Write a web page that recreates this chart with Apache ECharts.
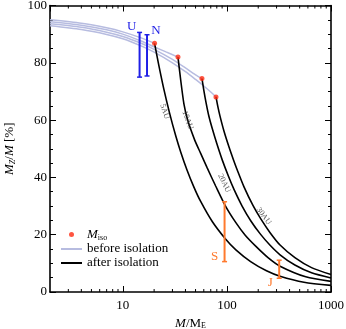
<!DOCTYPE html>
<html>
<head>
<meta charset="utf-8">
<script src="https://cdn.jsdelivr.net/npm/echarts@6/dist/echarts.min.js"></script>
<style>
  html, body { margin: 0; padding: 0; background: #fff; }
  #chart { width: 346px; height: 329px; }
</style>
</head>
<body>
<div id="chart"></div>
<script>
// tracks before isolation, [M/ME, Mz/M in %]
const before5 = [[2,95.0],[4,93.8],[7,92.2],[10,90.8],[15,88.7],[20.2,86.8]];
const before10 = [[2,94.3],[4,93.1],[7,91.5],[10,90.0],[15,87.6],[20,85.6],[26,83.8],[33.9,82.0]];
const before20 = [[2,93.6],[4,92.4],[7,90.7],[10,89.2],[15,86.8],[20,84.7],[30,81.2],[40,78.2],[50,75.8],[57.6,74.5]];
const before30 = [[2,92.9],[4,91.6],[7,89.9],[10,88.4],[15,85.9],[20,83.7],[30,80.0],[40,76.9],[50,74.2],[60,71.9],[70,69.8],[78.6,68.1]];

// tracks after isolation
const after5 = [[20.2,86.8],[22,79.8],[24.8,70.8],[28,62.8],[32.2,54.6],[36,48.9],[41.3,42.7],[48,36.8],[56,31.6],[72.6,24.5],[97,18.5],[122,14.7],[169,10.6],[240,7.4],[324,5.5],[550,3.4],[1000,2.3]];
const after10 = [[33.9,82.0],[36,74.0],[38.7,65.6],[42,60.0],[49,53.1],[56,48.4],[64.7,43.3],[78,37.0],[97,30.0],[122,24.2],[150,19.8],[189,16.0],[250,11.9],[324,9.0],[572,5.3],[1000,3.7]];
const after20 = [[57.6,74.5],[60,70.5],[63,66.2],[67,61.5],[72,57.3],[80,51.8],[90,46.2],[104,40.2],[117,35.8],[140,30.0],[170,24.8],[210,20.2],[260,16.3],[324,13.0],[450,9.4],[650,6.7],[1000,4.9]];
const after30 = [[78.6,68.1],[82,64.6],[86,61.3],[94,56.0],[105,50.5],[116,46.0],[126,42.5],[146,36.7],[178,30.2],[211,25.6],[260,20.7],[324,16.4],[450,12.0],[650,8.5],[1000,6.1]];

// isolation mass points
const isoPoints = [[20.2,86.8],[33.9,82.0],[57.6,74.5],[78.6,68.1]];

// planets: name, mass, low, high
const planetNames = ['U','N','S','J'];
const planetMass = [14.5,17.1,95,318];
const planetLow = [75.0,75.4,10.6,4.8];
const planetHigh = [90.6,89.8,31.5,11.1];

// curve labels
const trackNames = ['5AU','10AU','20AU','30AU'];
const trackLabelPos = [[25.2,63.0],[42.0,60.0],[94,38.0],[226,26.5]];

// minor ticks of the log axis
const minorX = [3,4,5,6,7,8,9,20,30,40,50,60,70,80,90,200,300,400,500,600,700,800,900];

const serif = 'Liberation Serif';
const lavender = '#b7bce0';
const blue = '#1f1fe6';
const orange = '#ff7a2e';
const red = '#ff2b12';

const chart = echarts.init(document.getElementById('chart'));

function lineSeries(name, data, color, width, z) {
  return {
    name: name, type: 'line', data: data, symbol: 'none',
    smooth: 0.25,
    lineStyle: { color: color, width: width }, itemStyle: { color: color },
    z: z, silent: true, animation: false
  };
}

const planetData = planetNames.map((n, i) => ({
  name: n, value: [planetMass[i], planetLow[i], planetHigh[i]],
  itemStyle: { color: i < 2 ? blue : orange }
}));
const planetLabelOffset = { U: [-8, -6, 'top'], N: [9, -4, 'top'], S: [-10, -5, 'low'], J: [-9, 4, 'low'] };

const series = [
  lineSeries('before isolation', before5, lavender, 1.5, 2),
  lineSeries('before isolation', before10, lavender, 1.5, 2),
  lineSeries('before isolation', before20, lavender, 1.5, 2),
  lineSeries('before isolation', before30, lavender, 1.5, 2),
  lineSeries('after isolation', after5, '#000', 1.6, 3),
  lineSeries('after isolation', after10, '#000', 1.6, 3),
  lineSeries('after isolation', after20, '#000', 1.6, 3),
  lineSeries('after isolation', after30, '#000', 1.6, 3),
  {
    name: 'Miso', type: 'scatter', data: isoPoints, symbol: 'circle', symbolSize: 5,
    itemStyle: { color: red }, z: 5, animation: false
  },
  {
    name: 'planets', type: 'custom', data: planetData, z: 4, animation: false,
    renderItem: function (params, api) {
      const x = api.value(0);
      const lo = api.coord([x, api.value(1)]);
      const hi = api.coord([x, api.value(2)]);
      const color = api.visual('color');
      const c = 2.5;
      const name = planetNames[params.dataIndex];
      const off = planetLabelOffset[name];
      const anchor = off[2] === 'top' ? hi : lo;
      return {
        type: 'group',
        children: [
          { type: 'line', shape: { x1: lo[0], y1: lo[1], x2: hi[0], y2: hi[1] }, style: { stroke: color, lineWidth: 2 } },
          { type: 'line', shape: { x1: lo[0] - c, y1: lo[1], x2: lo[0] + c, y2: lo[1] }, style: { stroke: color, lineWidth: 1.5 } },
          { type: 'line', shape: { x1: hi[0] - c, y1: hi[1], x2: hi[0] + c, y2: hi[1] }, style: { stroke: color, lineWidth: 1.5 } },
          { type: 'text', x: anchor[0] + off[0], y: anchor[1] + off[1],
            style: { text: name, fill: color, font: '13px ' + serif, align: 'center', verticalAlign: 'middle' } }
        ]
      };
    }
  },
  {
    name: 'minor', type: 'custom', z: 6, animation: false, silent: true,
    data: minorX.map(v => [v, 0]),
    renderItem: function (params, api) {
      const b = api.coord([api.value(0), 0]);
      const t = api.coord([api.value(0), 100]);
      const st = { stroke: '#000', lineWidth: 1 };
      return {
        type: 'group',
        children: [
          { type: 'line', shape: { x1: b[0], y1: b[1], x2: b[0], y2: b[1] - 3 }, style: st },
          { type: 'line', shape: { x1: t[0], y1: t[1], x2: t[0], y2: t[1] + 3 }, style: st }
        ]
      };
    }
  },
  {
    name: 'tracks', type: 'scatter', symbolSize: 0, z: 6, animation: false, silent: true,
    data: trackNames.map((n, i) => ({ name: n, value: trackLabelPos[i] })),
    label: {
      show: true, position: 'inside', formatter: '{b}', fontFamily: serif, fontSize: 8, color: '#333'
    },
    labelLayout: function (p) {
      const rot = [-72, -70, -64, -54][p.dataIndex];
      return { rotate: rot };
    }
  }
];

const tickFont = { fontFamily: serif, fontSize: 13, color: '#000' };
const rich = {
  i: { fontFamily: serif, fontSize: 13, fontStyle: 'italic', color: '#000' },
  r: { fontFamily: serif, fontSize: 13, color: '#000' },
  sub: { fontFamily: serif, fontSize: 8, color: '#000', verticalAlign: 'bottom', padding: [6, 0, 0, 0] },
  isub: { fontFamily: serif, fontSize: 8, fontStyle: 'italic', color: '#000', verticalAlign: 'bottom', padding: [6, 0, 0, 0] }
};

const xBase = {
  type: 'log', logBase: 10, min: 2, max: 1000,
  axisLine: { onZero: false, lineStyle: { color: '#000', width: 1.6 } },
  axisTick: { inside: true, length: 6, lineStyle: { color: '#000', width: 1 } },
  minorTick: { show: false },
  splitLine: { show: false }, minorSplitLine: { show: false }
};
const yBase = {
  type: 'value', min: 0, max: 100, interval: 20,
  axisLine: { onZero: false, lineStyle: { color: '#000', width: 1.6 } },
  axisTick: { inside: true, length: 6, lineStyle: { color: '#000', width: 1 } },
  minorTick: { show: true, splitNumber: 4, length: 3, lineStyle: { color: '#000', width: 1 } },
  splitLine: { show: false }
};

const hideSymbol = { opacity: 0 };

chart.setOption({
  animation: false,
  grid: { left: 50, right: 15, top: 5.5, bottom: 37, containLabel: false, outerBoundsMode: 'none' },
  legend: {
    orient: 'vertical', left: 60, top: 228, padding: 0,
    itemWidth: 21, itemHeight: 5, itemGap: 1,
    data: [
      { name: 'Miso', icon: 'circle' },
      { name: 'before isolation', itemStyle: hideSymbol },
      { name: 'after isolation', itemStyle: hideSymbol }
    ],
    formatter: function (n) { return n === 'Miso' ? '{i|M}{sub|iso}' : '{r|' + n + '}'; },
    textStyle: { fontFamily: serif, fontSize: 13, color: '#000', rich: rich }
  },
  xAxis: [
    Object.assign({}, xBase, {
      position: 'bottom',
      axisLabel: Object.assign({}, tickFont, {
        margin: 7, showMinLabel: false,
        formatter: function (v) { return [10, 100, 1000].indexOf(Math.round(v)) >= 0 ? String(Math.round(v)) : ''; }
      }),
      name: '{i|M}{r|/M}{sub|E}', nameLocation: 'middle', nameGap: 23,
      nameTextStyle: { rich: rich }
    }),
    Object.assign({}, xBase, { position: 'top', axisLabel: { show: false } })
  ],
  yAxis: [
    Object.assign({}, yBase, {
      position: 'left',
      axisLabel: Object.assign({}, tickFont, { margin: 3 }),
      name: '{i|M}{isub|Z}{r|/}{i|M}{r| [%]}', nameLocation: 'middle', nameGap: 30, nameRotate: 90,
      nameTextStyle: { rich: rich }
    }),
    Object.assign({}, yBase, { position: 'right', axisLabel: { show: false } })
  ],
  series: series
});
</script>
</body>
</html>
